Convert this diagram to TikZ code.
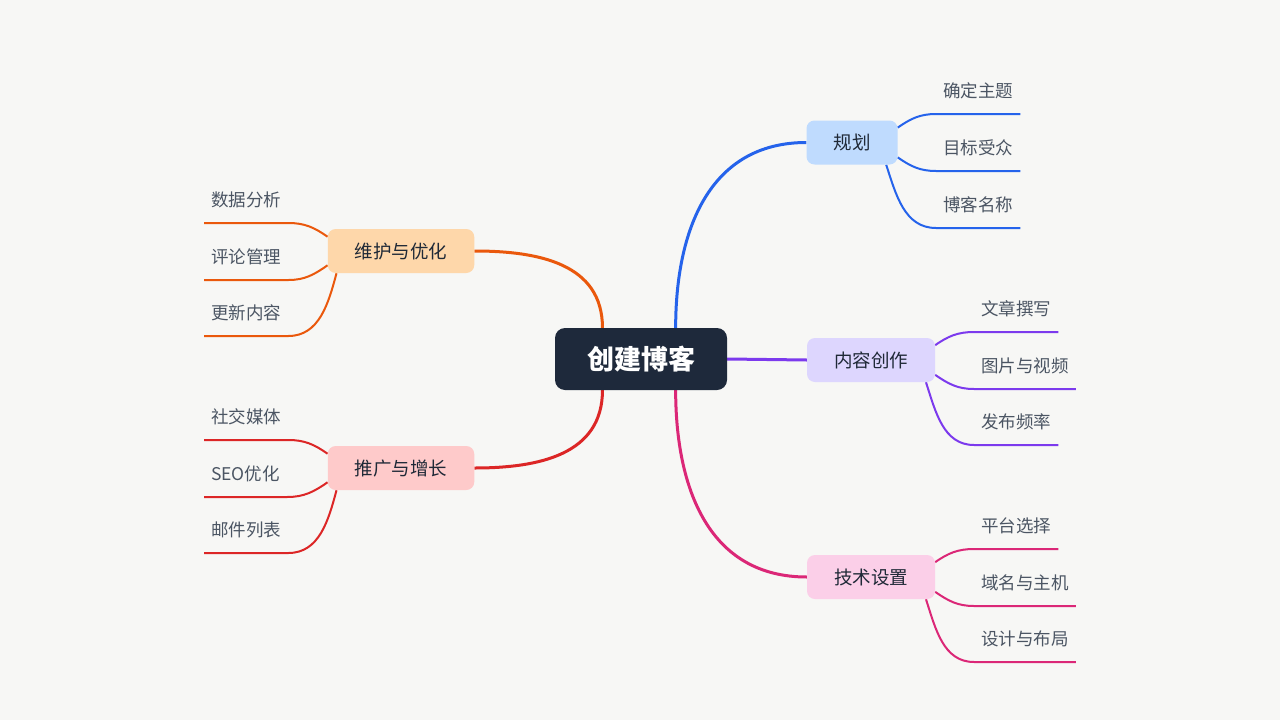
\documentclass[tikz,border=0pt]{standalone}
\usepackage{fontspec}
\setmainfont{Noto Sans CJK SC}
\usetikzlibrary{backgrounds}

\definecolor{paper}{HTML}{F7F7F5}
\definecolor{rootfill}{HTML}{1E293B}
\definecolor{topictext}{HTML}{1F2937}
\definecolor{leaftext}{HTML}{4B5563}
\definecolor{planline}{HTML}{2563EB}
\definecolor{planfill}{HTML}{BFDBFE}
\definecolor{contline}{HTML}{7C3AED}
\definecolor{contfill}{HTML}{DDD6FE}
\definecolor{techline}{HTML}{DB2777}
\definecolor{techfill}{HTML}{FBCFE8}
\definecolor{maintline}{HTML}{EA580C}
\definecolor{maintfill}{HTML}{FED7AA}
\definecolor{promoline}{HTML}{DC2626}
\definecolor{promofill}{HTML}{FECACA}

\begin{document}
\begin{tikzpicture}[
  x=1pt, y=1pt,
  rootbox/.style={rounded corners=10pt, fill=rootfill, text=white,
    minimum width=172pt, minimum height=62pt, inner sep=0pt,
    text height=20.5pt, text depth=0pt,
    font=\fontsize{27pt}{30pt}\selectfont\bfseries},
  topic/.style={rounded corners=8pt, fill=#1, text=topictext,
    minimum height=44pt, inner xsep=27pt, inner ysep=0pt,
    text height=14pt, text depth=0pt,
    font=\fontsize{18.5pt}{21pt}\selectfont},
  leaf/.style={anchor=south west, text=leaftext,
    inner xsep=7pt, inner ysep=11pt, text height=12pt, text depth=5pt,
    font=\fontsize{17.5pt}{20pt}\selectfont},
  branch/.style={line width=3pt, draw=#1},
  twig/.style={line width=2pt, draw=#1}
]
\useasboundingbox (0,0) rectangle (1280,-720);

% Root and main topics
\node[rootbox] (root) at (641,-359) {创建博客};
\node[topic=planfill] (plan) at (852,-142.5) {规划};
\node[topic=contfill] (cont) at (871,-360) {内容创作};
\node[topic=techfill] (tech) at (871,-577) {技术设置};
\node[topic=maintfill] (maint) at (401,-251) {维护与优化};
\node[topic=promofill] (promo) at (401,-468) {推广与增长};

% Leaves on the right
\node[leaf] (pa) at (936,-114) {确定主题};
\node[leaf] (pb) at (936,-171) {目标受众};
\node[leaf] (pc) at (936,-228) {博客名称};

\node[leaf] (ca) at (974,-332) {文章撰写};
\node[leaf] (cb) at (974,-389) {图片与视频};
\node[leaf] (cc) at (974,-445) {发布频率};

\node[leaf] (ta) at (974,-549) {平台选择};
\node[leaf] (tb) at (974,-606) {域名与主机};
\node[leaf] (tc) at (974,-662) {设计与布局};

% Leaves on the left
\node[leaf] (ma) at (204,-223) {数据分析};
\node[leaf] (mb) at (204,-280) {评论管理};
\node[leaf] (mc) at (204,-336) {更新内容};

\node[leaf] (sa) at (204,-440) {社交媒体};
\node[leaf] (sb) at (204,-497) {SEO优化};
\node[leaf] (sc) at (204,-553) {邮件列表};

\begin{scope}[on background layer]
\fill[paper] (0,0) rectangle (1280,-720);

% Root to topics
\draw[branch=planline] (root.42) to[out=90,in=180,looseness=1.1] (plan.west);
\draw[branch=contline] (root.east) -- (cont.west);
\draw[branch=techline] (root.-42) to[out=-90,in=180,looseness=1.1] (tech.west);
\draw[branch=maintline] (root.141) to[out=90,in=0,looseness=1.1] (maint.east);
\draw[branch=promoline] (root.-141) to[out=-90,in=0,looseness=1.1] (promo.east);

% Topics to leaves
\draw[twig=planline] (plan.18) to[out=35,in=180] (pa.south west) -- (pa.south east);
\draw[twig=planline] (plan.-18) to[out=-35,in=180] (pb.south west) -- (pb.south east);
\draw[twig=planline] (plan.-33) to[out=-72,in=180] (pc.south west) -- (pc.south east);

\draw[twig=contline] (cont.13) to[out=35,in=180] (ca.south west) -- (ca.south east);
\draw[twig=contline] (cont.-13) to[out=-35,in=180] (cb.south west) -- (cb.south east);
\draw[twig=contline] (cont.-22) to[out=-72,in=180] (cc.south west) -- (cc.south east);

\draw[twig=techline] (tech.13) to[out=35,in=180] (ta.south west) -- (ta.south east);
\draw[twig=techline] (tech.-13) to[out=-35,in=180] (tb.south west) -- (tb.south east);
\draw[twig=techline] (tech.-22) to[out=-72,in=180] (tc.south west) -- (tc.south east);

\draw[twig=maintline] (maint.169) to[out=145,in=0] (ma.south east) -- (ma.south west);
\draw[twig=maintline] (maint.191) to[out=-145,in=0] (mb.south east) -- (mb.south west);
\draw[twig=maintline] (maint.199) to[out=-105,in=0] (mc.south east) -- (mc.south west);

\draw[twig=promoline] (promo.169) to[out=145,in=0] (sa.south east) -- (sa.south west);
\draw[twig=promoline] (promo.191) to[out=-145,in=0] (sb.south east) -- (sb.south west);
\draw[twig=promoline] (promo.199) to[out=-105,in=0] (sc.south east) -- (sc.south west);
\end{scope}
\end{tikzpicture}
\end{document}
